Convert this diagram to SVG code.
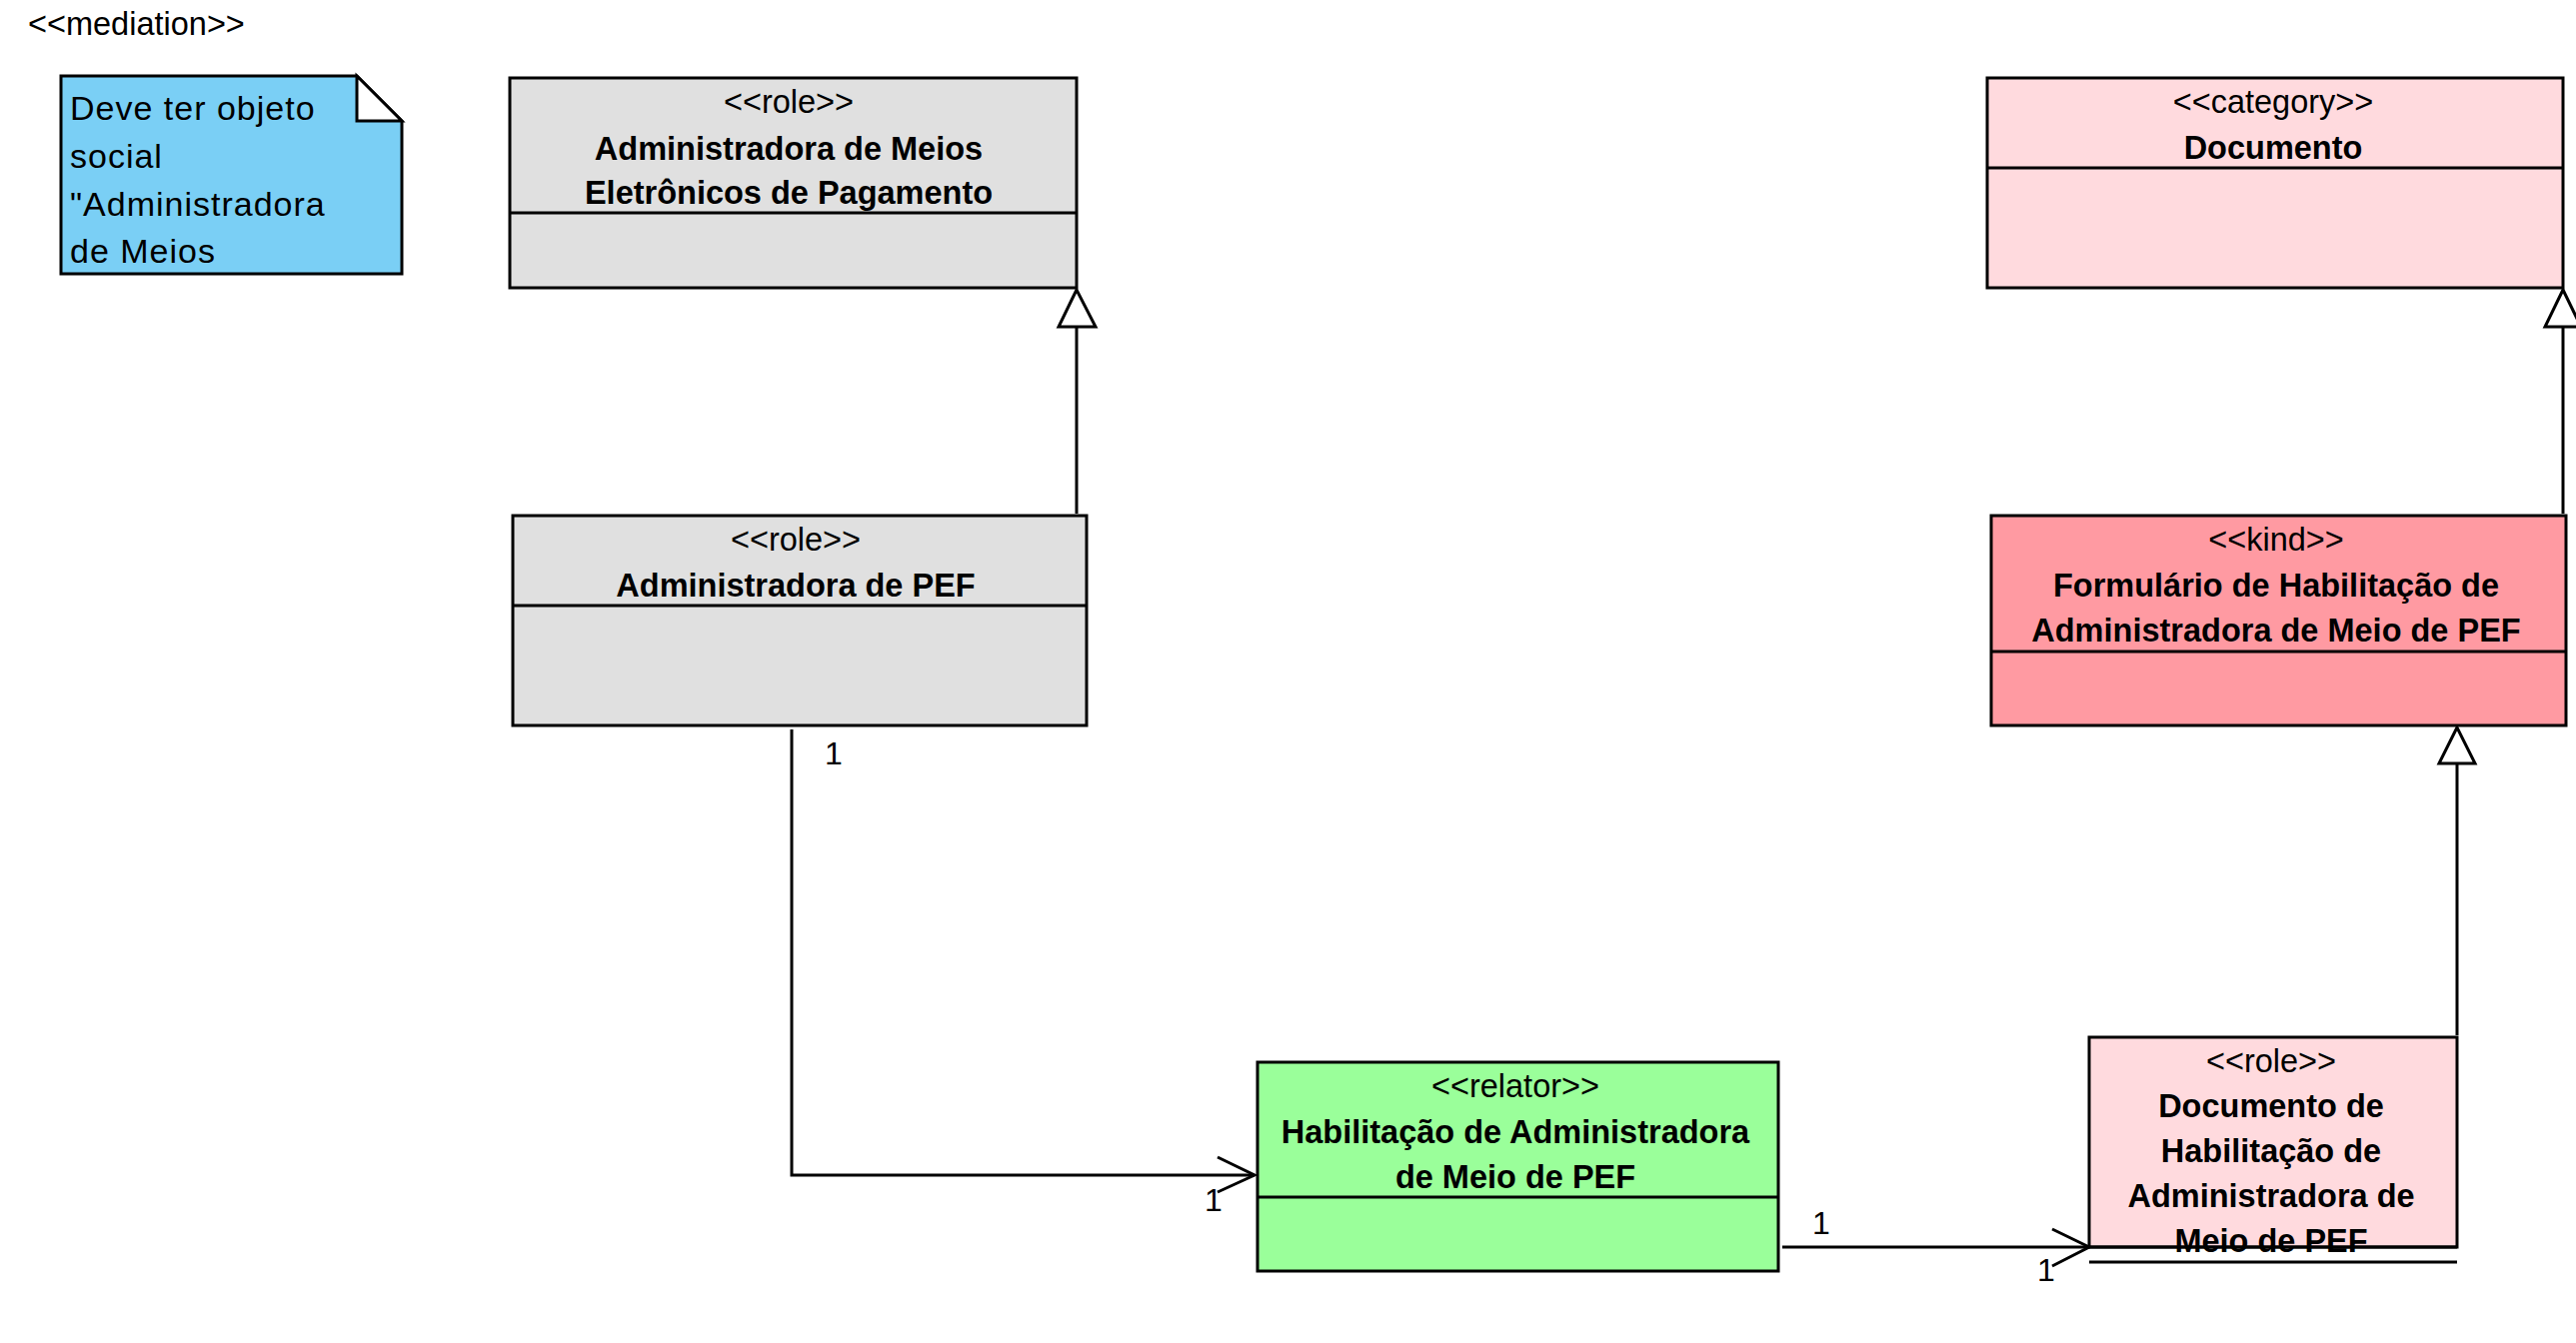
<svg xmlns="http://www.w3.org/2000/svg" width="2577" height="1344" viewBox="0 0 2577 1344">
<style>
text{font-family:"Liberation Sans",Arial,sans-serif;fill:#000}
.st{font-size:32.5px;text-anchor:middle}
.nm{font-size:32.5px;font-weight:bold;text-anchor:middle}
.box{stroke:#000;stroke-width:3}
.ln{stroke:#000;stroke-width:3;fill:none}
.gray{fill:#E0E0E0}
.pink{fill:#FFDADE}
.kind{fill:#FF9AA2}
.green{fill:#9AFF9A}
.note{fill:#7ACFF5}
.nt{font-size:34px;letter-spacing:1px}
.tri{fill:#fff;stroke:#000;stroke-width:3;stroke-linejoin:miter}
.lbl{font-size:32px}
</style>
<rect width="2577" height="1344" fill="#fff"/>
<text x="28" y="35" style="font-size:32.5px">&lt;&lt;mediation&gt;&gt;</text>

<g id="note">
<path class="note box" d="M61,76 H357 L402,121 V274 H61 Z"/>
<path d="M357,76 V121 H402 Z" fill="#fff" stroke="#000" stroke-width="3"/>
<text class="nt" x="70" y="120">Deve ter objeto</text>
<text class="nt" x="70" y="168">social</text>
<text class="nt" x="70" y="216">"Administradora</text>
<text class="nt" x="70" y="263">de Meios</text>
</g>

<g id="admin-meios-eletronicos">
<rect class="box gray" x="510" y="78" width="567" height="210"/>
<line class="ln" x1="510" y1="213" x2="1077" y2="213"/>
<text class="st" x="789" y="113">&lt;&lt;role&gt;&gt;</text>
<text class="nm" x="789" y="160">Administradora de Meios</text>
<text class="nm" x="789" y="204">Eletrônicos de Pagamento</text>
</g>

<g id="documento">
<rect class="box pink" x="1988" y="78" width="576" height="210"/>
<line class="ln" x1="1988" y1="168" x2="2564" y2="168"/>
<text class="st" x="2274" y="113">&lt;&lt;category&gt;&gt;</text>
<text class="nm" x="2274" y="159">Documento</text>
</g>

<g id="admin-pef">
<rect class="box gray" x="513" y="516" width="574" height="210"/>
<line class="ln" x1="513" y1="606" x2="1087" y2="606"/>
<text class="st" x="796" y="551">&lt;&lt;role&gt;&gt;</text>
<text class="nm" x="796" y="597">Administradora de PEF</text>
</g>

<g id="formulario">
<rect class="box kind" x="1992" y="516" width="575" height="210"/>
<line class="ln" x1="1992" y1="652" x2="2567" y2="652"/>
<text class="st" x="2277" y="551">&lt;&lt;kind&gt;&gt;</text>
<text class="nm" x="2277" y="597">Formulário de Habilitação de</text>
<text class="nm" x="2277" y="642">Administradora de Meio de PEF</text>
</g>

<g id="habilitacao">
<rect class="box green" x="1258" y="1063" width="521" height="209"/>
<line class="ln" x1="1258" y1="1198" x2="1779" y2="1198"/>
<text class="st" x="1516" y="1098">&lt;&lt;relator&gt;&gt;</text>
<text class="nm" x="1516" y="1144">Habilitação de Administradora</text>
<text class="nm" x="1516" y="1189">de Meio de PEF</text>
</g>

<g id="documento-habilitacao">
<rect class="box pink" x="2090" y="1038" width="368" height="210"/>
<text class="st" x="2272" y="1073">&lt;&lt;role&gt;&gt;</text>
<text class="nm" x="2272" y="1118">Documento de</text>
<text class="nm" x="2272" y="1163">Habilitação de</text>
<text class="nm" x="2272" y="1208">Administradora de</text>
<text class="nm" x="2272" y="1253">Meio de PEF</text>
<line class="ln" x1="2090" y1="1248" x2="2458" y2="1248"/>
<line class="ln" x1="2090" y1="1263" x2="2458" y2="1263"/>
</g>

<g id="connectors">
<line class="ln" x1="1077" y1="514" x2="1077" y2="327"/>
<path class="tri" d="M1077,290 L1059,327 L1096,327 Z"/>
<line class="ln" x1="2564" y1="514" x2="2564" y2="327"/>
<path class="tri" d="M2564,290 L2546,327 L2582,327 Z"/>
<line class="ln" x1="2458" y1="1036" x2="2458" y2="764"/>
<path class="tri" d="M2458,728 L2440,764 L2476,764 Z"/>
<path class="ln" d="M792,730 V1176 H1255"/>
<path class="ln" d="M1218,1158 L1255,1176 L1218,1193"/>
<text class="lbl" x="825" y="765">1</text>
<text class="lbl" x="1205" y="1212">1</text>
<path class="ln" d="M1783,1248 H2090"/>
<path class="ln" d="M2053,1230 L2090,1248 L2053,1267"/>
<text class="lbl" x="1813" y="1235">1</text>
<text class="lbl" x="2038" y="1282">1</text>
</g>
</svg>
